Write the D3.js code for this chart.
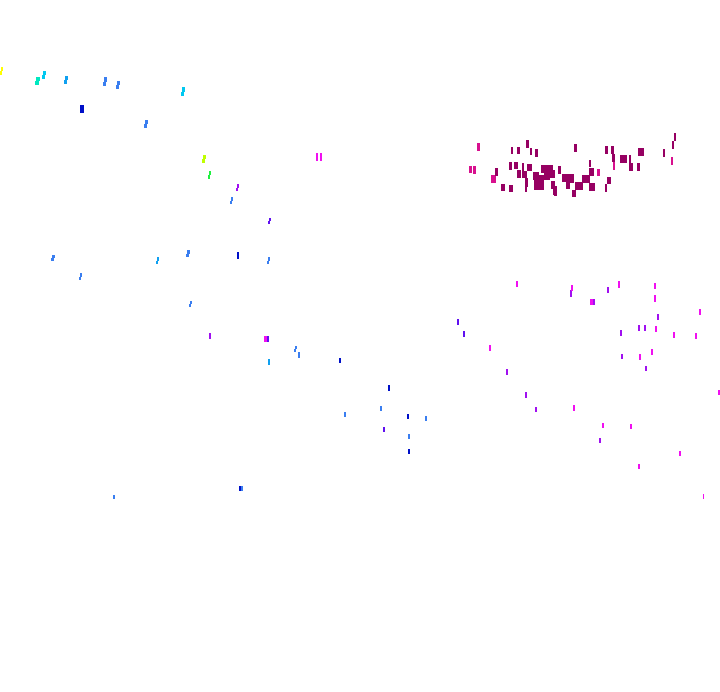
<!DOCTYPE html>
<html>
<head>
<meta charset="utf-8">
<script src="https://cdn.jsdelivr.net/npm/d3@7"></script>
<style>
  html, body { margin: 0; padding: 0; background: #ffffff; }
  svg { display: block; }
</style>
</head>
<body>
<script>
// Each mark: [x, y, width, height] in chart units
const yellowMarks = [[0,67,3,8]];
const limeMarks = [[202,155,4,8]];
const greenMarks = [[208,171,3,8]];
const tealMarks = [[35,77,5,8]];
const cyanMarks = [[42,71,4,8],[181,87,4,9]];
const skyMarks = [[64,76,4,8],[156,257,3,7],[268,359,2,6]];
const blueMarks = [[103,77,4,9],[116,81,4,8],[144,120,4,8],[230,197,3,7],[51,255,4,6],[79,273,3,7],
  [186,250,4,7],[267,257,3,7],[189,301,3,6],[294,346,3,6],[298,352,2,6],[344,412,2,5],[380,406,2,5],
  [425,416,2,5],[408,434,2,5],[113,495,2,4],[241,486,2,5]];
const navyMarks = [[80,105,4,8],[237,252,2,7],[339,358,2,5],[388,385,2,6],[407,414,2,5],[408,449,2,5],[239,486,2,5]];
const violetMarks = [[268,218,3,6],[267,336,2,6],[383,427,2,5],[457,319,2,6],[463,331,2,6]];
const purpleMarks = [[236,184,3,7],[209,333,2,6],[607,287,2,6],[593,299,2,6],[657,314,2,6],[620,330,2,6],
  [638,325,2,6],[644,325,2,6],[621,354,2,5],[645,366,2,5],[506,369,2,6],[525,392,2,6],[535,407,2,5],
  [599,438,2,5],[570,290,2,7]];
const magentaMarks = [[316,153,2,8],[320,153,2,8],[264,336,3,6],[516,281,2,6],[571,285,2,6],[618,281,2,7],
  [654,283,2,6],[654,295,2,7],[590,299,3,6],[699,309,2,6],[655,326,2,6],[673,332,2,6],[695,333,2,6],
  [489,345,2,6],[639,354,2,6],[651,349,2,6],[718,390,2,5],[573,405,2,6],[602,423,2,5],[630,424,2,5],
  [679,451,2,5],[638,464,2,5],[703,494,1,5]];
const pinkMarks = [[477,143,3,8],[469,166,3,7],[473,166,3,8],[613,162,2,8],[597,169,3,7],[671,157,2,8],[491,175,5,8]];
const plumMarks = [[511,147,2,7],[517,147,3,7],[526,140,3,8],[530,148,2,7],[535,149,3,8],[495,168,3,8],
  [501,184,4,7],[509,185,4,7],[509,162,3,8],[514,162,4,7],[517,170,4,8],[522,163,2,8],[527,164,5,7],
  [522,171,5,7],[525,178,3,9],[525,187,2,5],[533,172,6,8],[534,180,10,10],[538,175,6,8],[541,165,12,8],
  [544,173,6,7],[550,170,5,8],[551,181,4,8],[553,186,4,9],[558,166,3,8],[562,174,12,8],[566,182,4,7],
  [572,190,2,7],[554,188,3,8],[574,144,3,8],[605,146,3,8],[611,146,3,8],[612,154,3,8],[620,155,7,8],
  [629,155,2,8],[629,163,4,8],[637,163,3,8],[638,148,6,8],[663,149,2,8],[672,141,2,8],[674,133,2,8],
  [589,160,2,7],[589,168,5,8],[570,175,4,8],[582,175,8,8],[575,182,8,8],[589,183,6,8],[572,190,4,7],
  [607,177,4,7],[605,184,2,8]];

const groups = [
  ["yellow", yellowMarks], ["lime", limeMarks], ["green", greenMarks], ["teal", tealMarks],
  ["cyan", cyanMarks], ["sky", skyMarks], ["blue", blueMarks], ["navy", navyMarks],
  ["violet", violetMarks], ["purple", purpleMarks], ["magenta", magentaMarks],
  ["pink", pinkMarks], ["plum", plumMarks]
];
const groupNames = groups.map(g => g[0]);
const groupColors = ["#ffff00","#c0ff00","#20f040","#00e8c0","#00c8f0","#10a0f0","#3a7ef0","#0010c8",
  "#6010f0","#a010f0","#f010f0","#d8108e","#960062"];
const slantedGroups = ["yellow","lime","green","teal","cyan","sky","blue","violet","purple"];

const W = 720, H = 692;
const x = d3.scaleLinear().domain([0, 720]).range([0, W]);
const y = d3.scaleLinear().domain([0, 692]).range([0, H]);
const color = d3.scaleOrdinal().domain(groupNames).range(groupColors);

const svg = d3.select("body").append("svg").attr("width", W).attr("height", H)
  .attr("shape-rendering", "crispEdges");
svg.append("rect").attr("width", W).attr("height", H).attr("fill", "#fff");

const data = groups.flatMap(([name, arr]) => arr.map(d => ({ g: name, x: d[0], y: d[1], w: d[2], h: d[3] })));

const marks = svg.append("g").selectAll("g").data(data).join("g")
  .attr("fill", d => color(d.g));

// stroke split in two halves; the upper half steps one pixel right on slanted strokes
marks.each(function(d) {
  const sel = d3.select(this);
  const slant = slantedGroups.includes(d.g) && d.x < 300 && d.w >= 3 ? 1 : 0;
  const mid = d.y + Math.round(d.h / 2);
  sel.append("rect")
    .attr("x", x(d.x) + slant).attr("y", y(d.y))
    .attr("width", x(d.x + d.w) - x(d.x) - slant).attr("height", y(mid) - y(d.y));
  sel.append("rect")
    .attr("x", x(d.x)).attr("y", y(mid))
    .attr("width", x(d.x + d.w) - x(d.x) - slant).attr("height", y(d.y + d.h) - y(mid));
});
</script>
</body>
</html>
